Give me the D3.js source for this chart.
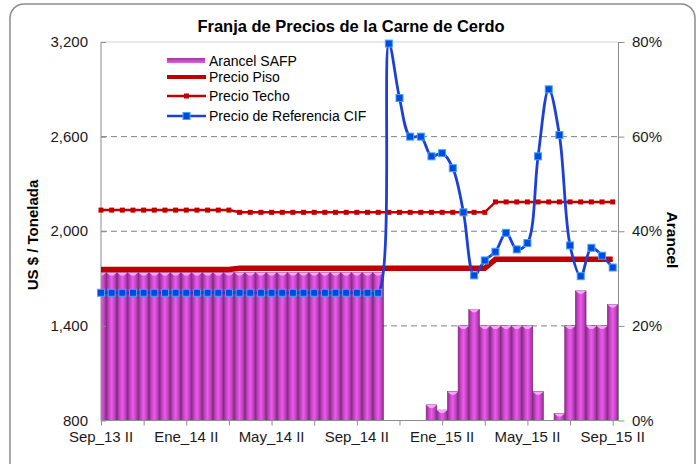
<!DOCTYPE html>
<html lang="es">
<head>
<meta charset="utf-8">
<script src="https://d3js.org/d3.v7.min.js"></script>
<style>
    body { margin: 0; background: #fff; }
    text { font-family: "Liberation Sans", Arial, sans-serif; fill: #000; }
    .tick-label { font-size: 15px; fill: #1a1a1a; }
    .legend text { font-size: 14px; }
</style>
</head>
<body>
<svg id="chart" width="699" height="464"></svg>
<script>
    // quincenas, Sep_13 II .. Sep_15 II
    var categories = [
        "Sep_13 II", "Oct_13 I", "Oct_13 II", "Nov_13 I", "Nov_13 II", "Dic_13 I", "Dic_13 II",
        "Ene_14 I", "Ene_14 II", "Feb_14 I", "Feb_14 II", "Mar_14 I", "Mar_14 II", "Abr_14 I", "Abr_14 II",
        "May_14 I", "May_14 II", "Jun_14 I", "Jun_14 II", "Jul_14 I", "Jul_14 II", "Ago_14 I", "Ago_14 II",
        "Sep_14 I", "Sep_14 II", "Oct_14 I", "Oct_14 II", "Nov_14 I", "Nov_14 II", "Dic_14 I", "Dic_14 II",
        "Ene_15 I", "Ene_15 II", "Feb_15 I", "Feb_15 II", "Mar_15 I", "Mar_15 II", "Abr_15 I", "Abr_15 II",
        "May_15 I", "May_15 II", "Jun_15 I", "Jun_15 II", "Jul_15 I", "Jul_15 II", "Ago_15 I", "Ago_15 II",
        "Sep_15 I", "Sep_15 II"
    ];
    var tickLabels = ["Sep_13 II", "Ene_14 II", "May_14 II", "Sep_14 II", "Ene_15 II", "May_15 II", "Sep_15 II"];

    // Arancel SAFP (%)
    var arancel = [
        31.3, 31.3, 31.3, 31.3, 31.3, 31.3, 31.3, 31.3, 31.3, 31.3, 31.3, 31.3, 31.3,
        31.3, 31.3, 31.3, 31.3, 31.3, 31.3, 31.3, 31.3, 31.3, 31.3, 31.3, 31.3, 31.3, 31.3,
        0, 0, 0, 0, 3.3, 2.2, 6.1, 20, 23.5, 20, 20, 20, 20, 20, 6.1, 0, 1.5, 20, 27.4, 20, 20, 24.5
    ];
    // US$ / tonelada
    var precioPiso = [
        1757, 1757, 1757, 1757, 1757, 1757, 1757, 1757, 1757, 1757, 1757, 1757, 1757,
        1765, 1765, 1765, 1765, 1765, 1765, 1765, 1765, 1765, 1765, 1765, 1765, 1765, 1765,
        1765, 1765, 1765, 1765, 1765, 1765, 1765, 1765, 1765, 1765,
        1822, 1822, 1822, 1822, 1822, 1822, 1822, 1822, 1822, 1822, 1822, 1822
    ];
    var precioTecho = [
        2134, 2134, 2134, 2134, 2134, 2134, 2134, 2134, 2134, 2134, 2134, 2134, 2134,
        2120, 2120, 2120, 2120, 2120, 2120, 2120, 2120, 2120, 2120, 2120, 2120, 2120, 2120,
        2120, 2120, 2120, 2120, 2120, 2120, 2120, 2120, 2120, 2120,
        2186, 2186, 2186, 2186, 2186, 2186, 2186, 2186, 2186, 2186, 2186, 2186
    ];
    var precioCIF = [
        1610, 1610, 1610, 1610, 1610, 1610, 1610, 1610, 1610, 1610, 1610, 1610, 1610, 1610,
        1610, 1610, 1610, 1610, 1610, 1610, 1610, 1610, 1610, 1610, 1610, 1610, 1610,
        3190, 2845, 2600, 2600, 2475, 2495, 2400, 2120, 1720, 1815, 1870, 1990, 1885, 1925,
        2475, 2900, 2610, 1910, 1715, 1895, 1845, 1770
    ];

    var svg = d3.select("#chart"),
        plot = {left: 101, right: 618.5, top: 42, bottom: 420.5};

    var x = d3.scalePoint()
        .domain(categories)
        .range([plot.left, 612.7]);
    var step = x.step();

    var y = d3.scaleLinear()
        .domain([800, 3200])
        .range([plot.bottom, plot.top]);

    var y1 = d3.scaleLinear()
        .domain([0, 80])
        .range([plot.bottom, plot.top]);

    var defs = svg.append("defs");
    var grad = defs.append("linearGradient").attr("id", "barGrad")
        .attr("x1", "0").attr("x2", "1").attr("y1", "0").attr("y2", "0");
    grad.append("stop").attr("offset", "0%").attr("stop-color", "#8a2e8a");
    grad.append("stop").attr("offset", "25%").attr("stop-color", "#c944c9");
    grad.append("stop").attr("offset", "50%").attr("stop-color", "#e95ce9");
    grad.append("stop").attr("offset", "75%").attr("stop-color", "#c944c9");
    grad.append("stop").attr("offset", "100%").attr("stop-color", "#8a2e8a");

    var legGrad = defs.append("linearGradient").attr("id", "legGrad")
        .attr("x1", "0").attr("x2", "0").attr("y1", "0").attr("y2", "1");
    legGrad.append("stop").attr("offset", "0%").attr("stop-color", "#9a3a9a");
    legGrad.append("stop").attr("offset", "100%").attr("stop-color", "#e060e0");

    defs.append("clipPath").attr("id", "plotClip")
        .append("rect")
        .attr("x", plot.left).attr("y", plot.top)
        .attr("width", plot.right - plot.left)
        .attr("height", plot.bottom - plot.top);

    // chart border
    svg.append("rect")
        .attr("x", 10).attr("y", 4)
        .attr("width", 685).attr("height", 480)
        .attr("rx", 14)
        .attr("fill", "#fff")
        .attr("stroke", "#8c8c8c")
        .attr("stroke-width", 1.5);

    // grid
    svg.append("g")
        .selectAll("line")
        .data([1400, 2000, 2600])
        .join("line")
        .attr("x1", plot.left).attr("x2", plot.right)
        .attr("y1", d => y(d)).attr("y2", d => y(d))
        .attr("stroke", "#808080")
        .attr("stroke-width", 1)
        .attr("stroke-dasharray", "6,4");

    svg.append("line")
        .attr("x1", plot.left).attr("x2", plot.right)
        .attr("y1", plot.top).attr("y2", plot.top)
        .attr("stroke", "#d0d0d0");

    // bars
    var bars = svg.append("g").attr("clip-path", "url(#plotClip)");
    bars.selectAll("rect.bar")
        .data(categories.map((c, i) => ({c: c, v: arancel[i]})).filter(d => d.v > 0))
        .join("rect")
        .attr("class", "bar")
        .attr("x", d => x(d.c) - step / 2)
        .attr("width", step)
        .attr("y", d => y1(d.v))
        .attr("height", d => y1(0) - y1(d.v))
        .attr("fill", "url(#barGrad)")
        .attr("stroke", "#7a2a7a")
        .attr("stroke-width", 0.6);
    bars.selectAll("path.cap")
        .data(categories.map((c, i) => ({c: c, v: arancel[i]})).filter(d => d.v > 1))
        .join("path")
        .attr("class", "cap")
        .attr("d", d => {
            var l = x(d.c) - step / 2, t = y1(d.v);
            return "M" + l + "," + t + "H" + (l + step) + "L" + (l + step * 0.65) + "," + (t + 3) +
                "H" + (l + step * 0.35) + "Z";
        })
        .attr("fill", "#f6a8f6");

    // axes
    var axisColor = "#8c8c8c";
    svg.append("line")
        .attr("x1", plot.left).attr("x2", plot.left)
        .attr("y1", plot.top).attr("y2", plot.bottom)
        .attr("stroke", axisColor);
    svg.append("line")
        .attr("x1", plot.right).attr("x2", plot.right)
        .attr("y1", plot.top).attr("y2", plot.bottom)
        .attr("stroke", axisColor);

    var yAxis = svg.append("g")
        .attr("transform", "translate(" + plot.left + ",0)")
        .call(d3.axisRight(y).tickValues([800, 1400, 2000, 2600, 3200]).tickSize(5).tickFormat(""));
    yAxis.select(".domain").remove();
    yAxis.selectAll("line").attr("stroke", axisColor);

    svg.append("g")
        .selectAll("text")
        .data([800, 1400, 2000, 2600, 3200])
        .join("text")
        .attr("class", "tick-label")
        .attr("x", 88)
        .attr("y", d => y(d) + 5)
        .attr("text-anchor", "end")
        .text(d3.format(","));

    var y1Axis = svg.append("g")
        .attr("transform", "translate(" + plot.right + ",0)")
        .call(d3.axisRight(y1).tickValues([0, 20, 40, 60, 80]).tickSize(6).tickFormat(""));
    y1Axis.select(".domain").remove();
    y1Axis.selectAll("line").attr("stroke", axisColor);

    svg.append("g")
        .selectAll("text")
        .data([0, 20, 40, 60, 80])
        .join("text")
        .attr("class", "tick-label")
        .attr("x", 632)
        .attr("y", d => y1(d) + 5)
        .text(d => d + "%");

    var xAxis = svg.append("g")
        .attr("transform", "translate(0," + plot.bottom + ")")
        .call(d3.axisBottom(x)
            .tickValues(categories.filter((c, i) => i % 4 === 0))
            .tickSize(5).tickFormat(""));
    xAxis.select(".domain").attr("stroke", axisColor)
        .attr("d", "M" + plot.left + ",0H" + plot.right);
    xAxis.selectAll("line").attr("stroke", axisColor);

    svg.append("g")
        .selectAll("text")
        .data(tickLabels)
        .join("text")
        .attr("class", "tick-label")
        .attr("x", d => x(d))
        .attr("y", 442)
        .attr("text-anchor", "middle")
        .text(d => d);

    // lines
    var pisoLine = d3.line().x((d, i) => x(categories[i])).y(d => y(d));
    svg.append("path")
        .attr("d", pisoLine(precioPiso))
        .attr("fill", "none")
        .attr("stroke", "#c00000")
        .attr("stroke-width", 5.5);

    svg.append("path")
        .attr("d", pisoLine(precioTecho))
        .attr("fill", "none")
        .attr("stroke", "#c00000")
        .attr("stroke-width", 2.5);
    svg.append("g")
        .selectAll("rect")
        .data(precioTecho)
        .join("rect")
        .attr("x", (d, i) => x(categories[i]) - 2.5)
        .attr("y", d => y(d) - 2.5)
        .attr("width", 5).attr("height", 5)
        .attr("fill", "#c00000");

    var cifLine = d3.line()
        .curve(d3.curveCatmullRom)
        .x((d, i) => x(categories[i]))
        .y(d => y(d));
    svg.append("path")
        .attr("d", cifLine(precioCIF))
        .attr("fill", "none")
        .attr("stroke", "#1c3fd6")
        .attr("stroke-width", 2.8);
    svg.append("g")
        .selectAll("rect")
        .data(precioCIF)
        .join("rect")
        .attr("x", (d, i) => x(categories[i]) - 3.5)
        .attr("y", d => y(d) - 3.5)
        .attr("width", 7).attr("height", 7)
        .attr("fill", "#0648dc")
        .attr("stroke", "#3aa8ff")
        .attr("stroke-width", 1);

    // legend
    var legend = svg.append("g").attr("class", "legend");
    legend.append("rect")
        .attr("x", 167).attr("y", 58).attr("width", 38).attr("height", 5)
        .attr("fill", "url(#legGrad)");
    legend.append("line")
        .attr("x1", 167).attr("x2", 206).attr("y1", 77).attr("y2", 77)
        .attr("stroke", "#c00000").attr("stroke-width", 4);
    legend.append("line")
        .attr("x1", 167).attr("x2", 206).attr("y1", 96).attr("y2", 96)
        .attr("stroke", "#c00000").attr("stroke-width", 2.5);
    legend.append("rect")
        .attr("x", 184).attr("y", 93.5).attr("width", 5).attr("height", 5)
        .attr("fill", "#c00000");
    legend.append("line")
        .attr("x1", 167).attr("x2", 206).attr("y1", 116).attr("y2", 116)
        .attr("stroke", "#1c3fd6").attr("stroke-width", 2.5);
    legend.append("rect")
        .attr("x", 183).attr("y", 112.5).attr("width", 7).attr("height", 7)
        .attr("fill", "#0648dc").attr("stroke", "#3aa8ff");
    legend.selectAll("text")
        .data([["Arancel SAFP", 61], ["Precio Piso", 77], ["Precio Techo", 96], ["Precio de Referencia CIF", 116]])
        .join("text")
        .attr("x", 209)
        .attr("y", d => d[1] + 5)
        .text(d => d[0]);

    // titles
    svg.append("text")
        .attr("x", 351).attr("y", 32)
        .attr("text-anchor", "middle")
        .style("font-size", "16.5px").style("font-weight", "bold")
        .text("Franja de Precios de la Carne de Cerdo");

    svg.append("text")
        .attr("transform", "translate(38,235) rotate(-90)")
        .attr("text-anchor", "middle")
        .style("font-size", "15px").style("font-weight", "bold")
        .text("US $ / Tonelada");

    svg.append("text")
        .attr("transform", "translate(667,240) rotate(90)")
        .attr("text-anchor", "middle")
        .style("font-size", "15.5px").style("font-weight", "bold")
        .text("Arancel");
</script>
</body>
</html>
